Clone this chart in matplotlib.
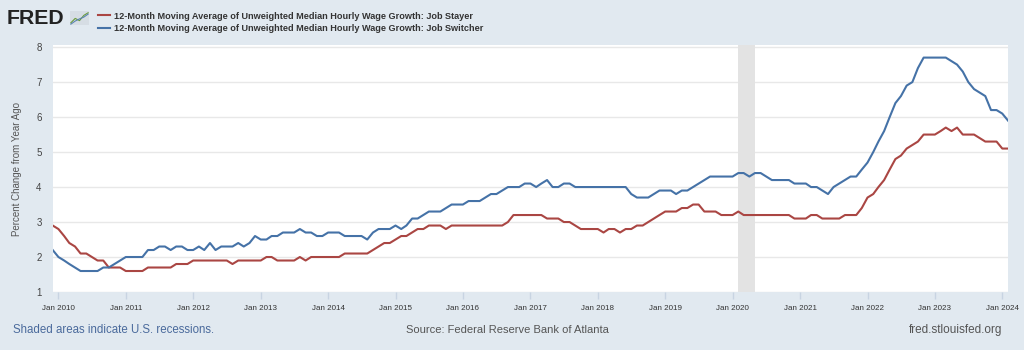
import numpy as np
import pandas as pd
import matplotlib
matplotlib.use('Agg')
import matplotlib.pyplot as plt
from matplotlib.lines import Line2D

plt.rcParams['font.family'] = ['Liberation Sans', 'DejaVu Sans']

# monthly data, Dec 2009 .. Feb 2024
dates = pd.date_range('2009-12-01', '2024-02-01', freq='MS')

job_stayer = [
    2.9,
    2.8, 2.6, 2.4, 2.3, 2.1, 2.1, 2.0, 1.9, 1.9, 1.7, 1.7, 1.7,   # 2010
    1.6, 1.6, 1.6, 1.6, 1.7, 1.7, 1.7, 1.7, 1.7, 1.8, 1.8, 1.8,   # 2011
    1.9, 1.9, 1.9, 1.9, 1.9, 1.9, 1.9, 1.8, 1.9, 1.9, 1.9, 1.9,   # 2012
    1.9, 2.0, 2.0, 1.9, 1.9, 1.9, 1.9, 2.0, 1.9, 2.0, 2.0, 2.0,   # 2013
    2.0, 2.0, 2.0, 2.1, 2.1, 2.1, 2.1, 2.1, 2.2, 2.3, 2.4, 2.4,   # 2014
    2.5, 2.6, 2.6, 2.7, 2.8, 2.8, 2.9, 2.9, 2.9, 2.8, 2.9, 2.9,   # 2015
    2.9, 2.9, 2.9, 2.9, 2.9, 2.9, 2.9, 2.9, 3.0, 3.2, 3.2, 3.2,   # 2016
    3.2, 3.2, 3.2, 3.1, 3.1, 3.1, 3.0, 3.0, 2.9, 2.8, 2.8, 2.8,   # 2017
    2.8, 2.7, 2.8, 2.8, 2.7, 2.8, 2.8, 2.9, 2.9, 3.0, 3.1, 3.2,   # 2018
    3.3, 3.3, 3.3, 3.4, 3.4, 3.5, 3.5, 3.3, 3.3, 3.3, 3.2, 3.2,   # 2019
    3.2, 3.3, 3.2, 3.2, 3.2, 3.2, 3.2, 3.2, 3.2, 3.2, 3.2, 3.1,   # 2020
    3.1, 3.1, 3.2, 3.2, 3.1, 3.1, 3.1, 3.1, 3.2, 3.2, 3.2, 3.4,   # 2021
    3.7, 3.8, 4.0, 4.2, 4.5, 4.8, 4.9, 5.1, 5.2, 5.3, 5.5, 5.5,   # 2022
    5.5, 5.6, 5.7, 5.6, 5.7, 5.5, 5.5, 5.5, 5.4, 5.3, 5.3, 5.3,   # 2023
    5.1, 5.1,                                                      # 2024
]

job_switcher = [
    2.2,
    2.0, 1.9, 1.8, 1.7, 1.6, 1.6, 1.6, 1.6, 1.7, 1.7, 1.8, 1.9,   # 2010
    2.0, 2.0, 2.0, 2.0, 2.2, 2.2, 2.3, 2.3, 2.2, 2.3, 2.3, 2.2,   # 2011
    2.2, 2.3, 2.2, 2.4, 2.2, 2.3, 2.3, 2.3, 2.4, 2.3, 2.4, 2.6,   # 2012
    2.5, 2.5, 2.6, 2.6, 2.7, 2.7, 2.7, 2.8, 2.7, 2.7, 2.6, 2.6,   # 2013
    2.7, 2.7, 2.7, 2.6, 2.6, 2.6, 2.6, 2.5, 2.7, 2.8, 2.8, 2.8,   # 2014
    2.9, 2.8, 2.9, 3.1, 3.1, 3.2, 3.3, 3.3, 3.3, 3.4, 3.5, 3.5,   # 2015
    3.5, 3.6, 3.6, 3.6, 3.7, 3.8, 3.8, 3.9, 4.0, 4.0, 4.0, 4.1,   # 2016
    4.1, 4.0, 4.1, 4.2, 4.0, 4.0, 4.1, 4.1, 4.0, 4.0, 4.0, 4.0,   # 2017
    4.0, 4.0, 4.0, 4.0, 4.0, 4.0, 3.8, 3.7, 3.7, 3.7, 3.8, 3.9,   # 2018
    3.9, 3.9, 3.8, 3.9, 3.9, 4.0, 4.1, 4.2, 4.3, 4.3, 4.3, 4.3,   # 2019
    4.3, 4.4, 4.4, 4.3, 4.4, 4.4, 4.3, 4.2, 4.2, 4.2, 4.2, 4.1,   # 2020
    4.1, 4.1, 4.0, 4.0, 3.9, 3.8, 4.0, 4.1, 4.2, 4.3, 4.3, 4.5,   # 2021
    4.7, 5.0, 5.3, 5.6, 6.0, 6.4, 6.6, 6.9, 7.0, 7.4, 7.7, 7.7,   # 2022
    7.7, 7.7, 7.7, 7.6, 7.5, 7.3, 7.0, 6.8, 6.7, 6.6, 6.2, 6.2,   # 2023
    6.1, 5.9,                                                      # 2024
]

series_names = [
    '12-Month Moving Average of Unweighted Median Hourly Wage Growth: Job Stayer',
    '12-Month Moving Average of Unweighted Median Hourly Wage Growth: Job Switcher',
]
series_colors = ['#aa4643', '#4572a7']

recession = ('2020-02-01', '2020-04-30')
year_ticks = pd.date_range('2010-01-01', '2024-01-01', freq='YS')
y_ticks = [1, 2, 3, 4, 5, 6, 7, 8]

bg = '#e1e9f0'
fig = plt.figure(figsize=(10.24, 3.5), dpi=100, facecolor=bg)
ax = fig.add_axes([52.7 / 1024, 58 / 350, 955.3 / 1024, 247 / 350])
ax.set_facecolor('white')

ax.axvspan(pd.Timestamp(recession[0]), pd.Timestamp(recession[1]),
           color='#e3e3e3', lw=0, zorder=1)
lines = []
for vals, name, col in zip([job_stayer, job_switcher], series_names, series_colors):
    ln, = ax.plot(dates, vals, color=col, lw=1.5, zorder=3, label=name)
    lines.append(ln)

ax.set_xlim(dates[0], dates[-1])
ax.set_ylim(1, 8.06)
ax.set_yticks(y_ticks)
ax.set_yticklabels([str(t) for t in y_ticks])
ax.set_xticks(year_ticks)
ax.set_xticklabels(['Jan ' + str(d.year) for d in year_ticks])
ax.grid(axis='y', color='#e8e8e8', lw=1, zorder=0)
ax.set_axisbelow(True)
for s in ax.spines.values():
    s.set_visible(False)

ax.tick_params(axis='y', length=0, pad=8, labelsize=7, labelcolor='#444')
ax.tick_params(axis='x', length=5, width=1, color='#c8d4e2', pad=4,
               labelsize=5.8, labelcolor='#333')

ax.set_ylabel('Percent Change from Year Ago', fontsize=7, color='#555', labelpad=10)

# header
fig.text(7 / 1024, 1 - 18 / 350, 'FRED', fontsize=15.3, fontweight='bold',
         color='#222', va='center', ha='left')
icon = fig.add_axes([70 / 1024, 1 - 25 / 350, 19 / 1024, 14 / 350])
icon.set_facecolor('#d6dde4')
icon.plot([0, 1, 2, 3, 4], [0.5, 1.5, 1.0, 2.2, 2.8], color='#6a9c3a', lw=0.8)
icon.plot([0, 1, 2, 3, 4], [0.2, 0.9, 1.4, 1.8, 2.5], color='#5b84b1', lw=0.8)
icon.set_xlim(-0.2, 4.2)
icon.set_ylim(0, 3.2)
icon.set_xticks([])
icon.set_yticks([])
for s in icon.spines.values():
    s.set_visible(False)

fig.legend(handles=lines, loc='upper left', bbox_to_anchor=(93 / 1024, 1 - 7 / 350),
           frameon=False, prop={'weight': 'bold', 'size': 6.6},
           handlelength=1.3, handletextpad=0.45, labelspacing=0.35,
           borderpad=0, labelcolor='#333')

# footer
fig.text(13 / 1024, 1 - 330 / 350, 'Shaded areas indicate U.S. recessions.',
         fontsize=8.3, color='#4a6a9c', va='center', ha='left')
fig.text(507 / 1024, 1 - 330 / 350, 'Source: Federal Reserve Bank of Atlanta',
         fontsize=8, color='#555', va='center', ha='center')
fig.text(1002 / 1024, 1 - 330 / 350, 'fred.stlouisfed.org',
         fontsize=8.5, color='#555', va='center', ha='right')

fig.savefig('out.png', dpi=100, facecolor=bg)
